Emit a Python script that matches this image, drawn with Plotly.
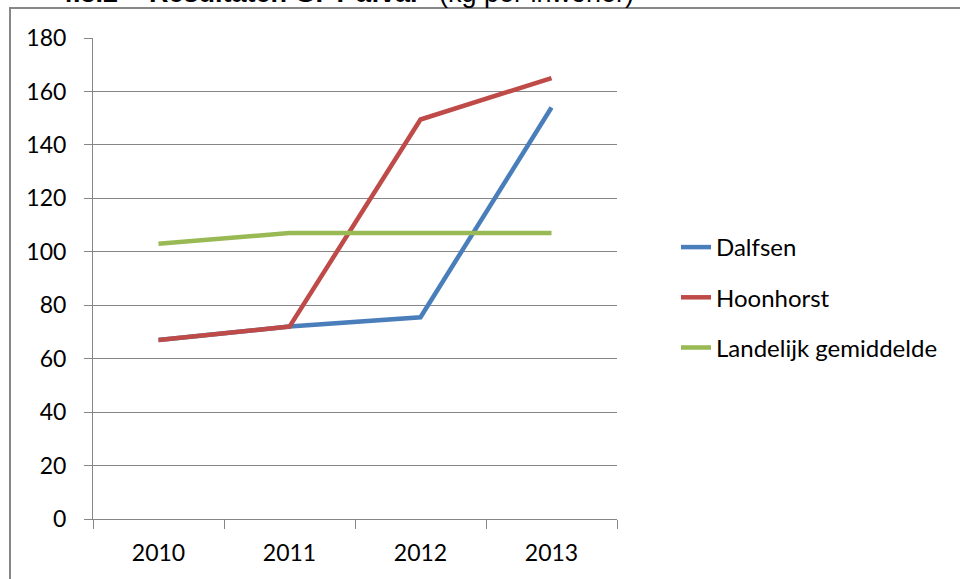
import plotly.graph_objects as go

years = ["2010", "2011", "2012", "2013"]
dalfsen = [67, 72, 75.5, 154]
hoonhorst = [67, 72, 149.5, 165]
landelijk = [103, 107, 107, 107]
y_ticks = [0, 20, 40, 60, 80, 100, 120, 140, 160, 180]

W, H = 960, 579
L, R, T, B = 93, 617, 38, 519  # plot area in px

def px_x(px):
    return (px - L) / (R - L)

def px_y(py):
    return (B - py) / (B - T)

FONT = "Lato"
fig = go.Figure()
series = [
    ("Dalfsen", dalfsen, "#4A7EBB"),
    ("Hoonhorst", hoonhorst, "#BE4B48"),
    ("Landelijk gemiddelde", landelijk, "#98B954"),
]
for name, vals, col in series:
    fig.add_trace(go.Scatter(
        x=years, y=vals, name=name, mode="lines", legendgroup=name,
        line=dict(color=col, width=4.5),
    ))

fig.update_layout(
    width=W, height=H,
    margin=dict(l=L, r=W - R, t=T, b=H - B),
    paper_bgcolor="white", plot_bgcolor="white",
    font=dict(family=FONT, size=23, color="#000000"),
    showlegend=True,
    legend=dict(
        x=px_x(676), y=px_y(225), xanchor="left", yanchor="top",
        font=dict(family=FONT, size=24, color="#000000"),
        tracegroupgap=16, borderwidth=0, bgcolor="rgba(0,0,0,0)",
    ),
    xaxis=dict(
        type="category", range=[-0.5, 3.5], showgrid=False,
        showline=True, linecolor="#868686", linewidth=1,
        ticks="outside", tickson="boundaries", ticklen=9, tickcolor="#868686",
        ticklabelstandoff=13,
        tickfont=dict(family=FONT, size=23, color="#000000"),
        fixedrange=True,
    ),
    yaxis=dict(
        range=[0, 180], tickvals=y_ticks, showgrid=True, gridcolor="#868686", gridwidth=1,
        showline=True, linecolor="#868686", linewidth=1,
        ticks="outside", ticklen=8, tickcolor="#868686",
        ticklabelstandoff=13, zeroline=False,
        tickfont=dict(family=FONT, size=23, color="#000000"),
        fixedrange=True,
    ),
    shapes=[
        dict(type="rect", xref="paper", yref="paper",
             x0=px_x(10), x1=px_x(1200), y0=px_y(700), y1=px_y(8),
             line=dict(color="#878787", width=2), fillcolor="rgba(0,0,0,0)", layer="below"),
    ],
    annotations=[
        dict(text="<b>4.3.2</b>", x=px_x(57), y=px_y(-7), xref="paper", yref="paper",
             xanchor="left", yanchor="middle", showarrow=False, borderpad=0,
             font=dict(family="Liberation Sans", size=27, color="#000000")),
        dict(text="<b>Resultaten GFT afval</b>", x=px_x(148), y=px_y(-7), xref="paper", yref="paper",
             xanchor="left", yanchor="middle", showarrow=False, borderpad=0,
             font=dict(family="Liberation Sans", size=27, color="#000000")),
        dict(text="(kg per inwoner)", x=px_x(438), y=px_y(-7), xref="paper", yref="paper",
             xanchor="left", yanchor="middle", showarrow=False, borderpad=0,
             font=dict(family="Liberation Sans", size=27, color="#000000")),
    ],
)

fig.write_html("out.html", config={"displayModeBar": False},
               post_script="document.body.style.margin='0';")
